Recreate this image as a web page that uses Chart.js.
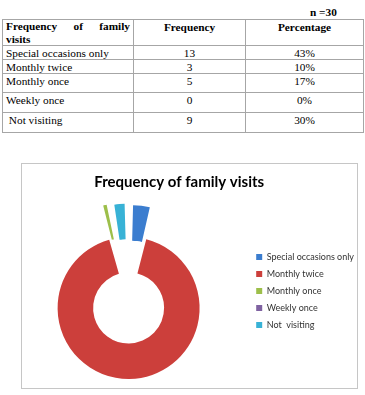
<!DOCTYPE html>
<html>
<head>
<meta charset="utf-8">
<title>Frequency of family visits</title>
<script src="https://cdn.jsdelivr.net/npm/chart.js@4.4.1/dist/chart.umd.min.js"></script>
<style>
  html, body { margin: 0; padding: 0; background: #fff; }
  body { width: 365px; height: 395px; overflow: hidden; position: relative; }
  .n { position: absolute; left: 310px; top: 5px; font: bold 11.3px/14px "Liberation Serif", serif; }
  table { position: absolute; left: 2px; top: 19px; width: 361px; border-collapse: collapse; table-layout: fixed;
          font: 11.3px/12px "Liberation Serif", serif; color: #000; }
  td { border: 1px solid #a6a6a6; padding: 1px 3px 0 3px; vertical-align: top; }
  td.c { text-align: center; }
  .hd { font-weight: bold; }
  .hd div { line-height: 12.5px; }
  .just { text-align: justify; text-align-last: justify; }
  .box { position: absolute; left: 21px; top: 163px; width: 337px; height: 226px; box-sizing: border-box;
         border: 1px solid #c6c6c6; }
  #chart { position: absolute; left: 0; top: 163px; }
</style>
</head>
<body>
<div class="n">n =30</div>
<table id="tbl">
  <colgroup><col style="width:131px"><col style="width:112px"><col style="width:118px"></colgroup>
  <tr style="height:25px">
    <td class="hd" style="padding-top:0"><div class="just">Frequency of family</div><div>visits</div></td>
    <td class="hd c" style="padding-top:1px">Frequency</td>
    <td class="hd c" style="padding-top:1px">Percentage</td>
  </tr>
</table>
<div class="box"></div>
<canvas id="chart" width="365" height="225"></canvas>
<script>
// table values
const rowLabels = ['Special occasions only', 'Monthly twice', 'Monthly once', 'Weekly once', '\u00a0Not visiting'];
const frequency = [13, 3, 5, 0, 9];
const percentage = ['43%', '10%', '17%', '0%', '30%'];
const rowHeights = [14, 14, 19, 20, 20];

const categories = ['Special occasions only', 'Monthly twice', 'Monthly once', 'Weekly once', 'Not  visiting'];
const shares = [4.0, 91.6, 1.6, 0, 2.8];
const colours = ['#3b7dcf', '#cc3f3b', '#9dbf4a', '#7f62a1', '#38b2d6'];
const explode = [73, 0, 73, 73, 73];

const tbl = document.getElementById('tbl');
rowLabels.forEach((label, i) => {
  const tr = document.createElement('tr');
  tr.style.height = rowHeights[i] + 'px';
  [label, frequency[i], percentage[i]].forEach((v, j) => {
    const td = document.createElement('td');
    td.textContent = v;
    if (j > 0) td.className = 'c';
    tr.appendChild(td);
  });
  tbl.appendChild(tr);
});

const ctx = document.getElementById('chart').getContext('2d');
new Chart(ctx, {
  type: 'doughnut',
  data: {
    labels: categories,
    datasets: [{
      data: shares,
      backgroundColor: colours,
      borderWidth: 0,
      offset: explode,
    }],
  },
  options: {
    responsive: false,
    animation: false,
    devicePixelRatio: 1,
    radius: 71,
    cutout: '50%',
    layout: { padding: { left: 9, right: 1, top: 0, bottom: 0 } },
    plugins: {
      title: {
        display: true,
        // trailing spaces nudge the centred title a little to the left
        text: 'Frequency of family visits\u00a0\u00a0\u00a0\u00a0',
        color: '#000',
        font: { family: 'Lato', size: 15, weight: 'bold', lineHeight: 1.2 },
        padding: { top: 10, bottom: 37 },
      },
      legend: {
        position: 'right',
        align: 'start',
        fullSize: false,
        // empty title only pushes the entries down
        title: { display: true, text: '', font: { size: 9, lineHeight: 1.5 }, padding: { top: 3, bottom: 0 } },
        labels: { boxWidth: 6, boxHeight: 6, padding: 8, color: '#333', font: { family: 'Lato', size: 9 } },
      },
      tooltip: { enabled: false },
    },
  },
});
</script>
</body>
</html>
